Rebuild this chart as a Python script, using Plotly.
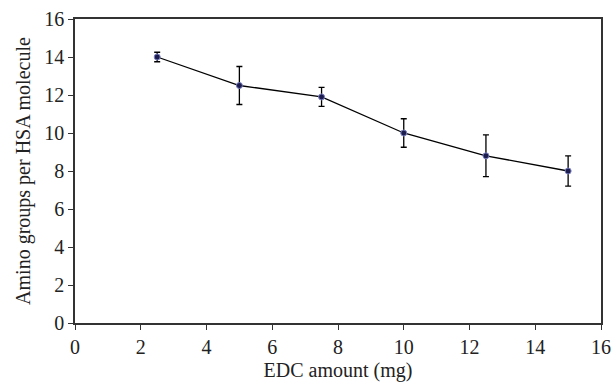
import plotly.graph_objects as go

edc_mg = [2.5, 5, 7.5, 10, 12.5, 15]
amino_groups = [14.0, 12.5, 11.9, 10.0, 8.8, 8.0]
error = [0.25, 1.0, 0.5, 0.75, 1.1, 0.8]

x_ticks = [0, 2, 4, 6, 8, 10, 12, 14, 16]
y_ticks = [0, 2, 4, 6, 8, 10, 12, 14, 16]

font_family = "Liberation Serif, Times New Roman, serif"

fig = go.Figure()
fig.add_trace(go.Scatter(
    x=edc_mg, y=amino_groups,
    mode="lines+markers",
    line=dict(color="black", width=1.3),
    marker=dict(size=6, color="#1c1c4e", line=dict(color="#7a80c0", width=1)),
    error_y=dict(type="data", array=error, visible=True, color="black", thickness=1.3, width=3),
    showlegend=False,
))

axis_common = dict(
    showgrid=False, zeroline=False,
    showline=True, linecolor="#333", linewidth=1.5, mirror=True,
    ticks="outside", ticklen=5, tickcolor="#333", tickwidth=1.2,
    tickfont=dict(family=font_family, size=20, color="#222"),
)

fig.update_layout(
    width=615, height=385,
    margin=dict(l=75, r=14, t=19, b=62),
    paper_bgcolor="white", plot_bgcolor="white",
    font=dict(family=font_family, color="#222"),
    xaxis=dict(range=[0, 16], tickvals=x_ticks,
               title=dict(text="EDC amount (mg)", font=dict(family=font_family, size=20), standoff=6),
               automargin=False,
               **axis_common),
    yaxis=dict(range=[0, 16], tickvals=y_ticks,
               title=dict(text="Amino groups per HSA molecule", font=dict(family=font_family, size=20), standoff=8),
               automargin=False,
               **axis_common),
)

fig.write_html("out.html")
